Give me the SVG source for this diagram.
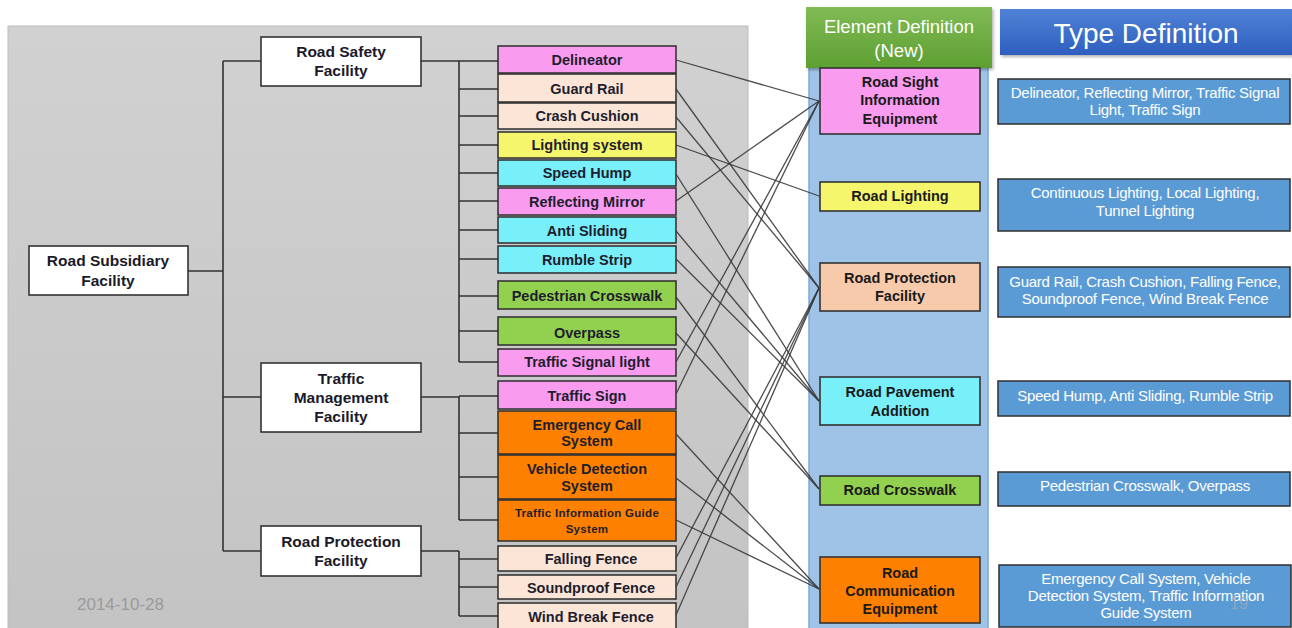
<svg xmlns="http://www.w3.org/2000/svg" width="1292" height="628" viewBox="0 0 1292 628">
  <defs>
    <linearGradient id="panelGrad" x1="0" y1="0" x2="0" y2="1">
      <stop offset="0" stop-color="#d1d1d1"/>
      <stop offset="1" stop-color="#c3c3c3"/>
    </linearGradient>
    <linearGradient id="greenHead" x1="0" y1="0" x2="0" y2="1">
      <stop offset="0" stop-color="#80bb55"/>
      <stop offset="1" stop-color="#5e9f32"/>
    </linearGradient>
    <linearGradient id="blueHead" x1="0" y1="0" x2="0" y2="1">
      <stop offset="0" stop-color="#4f82d6"/>
      <stop offset="1" stop-color="#2e5fbf"/>
    </linearGradient>
    <filter id="shadow" x="-5%" y="-10%" width="115%" height="130%">
      <feDropShadow dx="1.5" dy="2" stdDeviation="1.5" flood-color="#000" flood-opacity="0.3"/>
    </filter>
    <style>
      .tree { fill: none; stroke: #333; stroke-width: 1.6; }
      .cat { fill: #fff; stroke: #333; stroke-width: 1.6; }
      .cat-t { font-family: "Liberation Sans", Arial, sans-serif; font-weight: bold; font-size: 15.5px; fill: #1a1a2a; text-anchor: middle; }
      .item { stroke: #2d2d2d; stroke-width: 1.5; }
      .item-t { font-family: "Liberation Sans", Arial, sans-serif; font-weight: bold; font-size: 14.5px; fill: #1e1e2e; text-anchor: middle; }
      .small-t { font-size: 11.5px; letter-spacing: 0.3px; }
      .pink { fill: #f99cf0; }
      .peach { fill: #fbe5d7; }
      .yellow { fill: #f5f66c; }
      .cyan { fill: #79eff9; }
      .green { fill: #92d050; }
      .orange { fill: #fe8000; }
      .salmon { fill: #f8caac; }
      .elem { stroke: #333; stroke-width: 1.6; }
      .elem-t { font-family: "Liberation Sans", Arial, sans-serif; font-weight: bold; font-size: 14.5px; fill: #1a1a1a; text-anchor: middle; }
      .type { fill: #5b9bd5; stroke: #2f2f2f; stroke-width: 1.5; }
      .type-t { font-family: "Liberation Sans", Arial, sans-serif; font-size: 15px; letter-spacing: -0.25px; fill: #fff; text-anchor: middle; }
      .links line { stroke: #383838; stroke-width: 1.3; stroke-opacity: 0.9; }
    </style>
  </defs>

  <!-- page background -->
  <rect x="0" y="0" width="1292" height="628" fill="#fff"/>

  <!-- grey panel behind the facility tree -->
  <rect x="8" y="26" width="740" height="620" fill="url(#panelGrad)" stroke="#bdbdbd" stroke-width="1"/>

  <!-- light blue column for element definitions -->
  <rect x="809" y="64" width="179" height="580" fill="#9fc2e7" stroke="#7ca8dc" stroke-width="1.5"/>

  <!-- tree branches -->
  <g id="tree-lines" class="tree">
    <path d="M188 271 H223 M223 61 V551 M223 61 H261 M223 397 H261 M223 551 H261"/>
    <!-- road safety branch -->
    <path d="M421 61 H498 M459 61 V362 M459 89 H498 M459 116 H498 M459 145 H498 M459 173 H498 M459 201 H498 M459 230 H498 M459 259 H498 M459 296 H498 M459 331 H498 M459 362 H498"/>
    <!-- traffic management branch -->
    <path d="M421 397 H459 M459 396 V520 M459 396 H498 M459 433 H498 M459 477 H498 M459 520 H498"/>
    <!-- road protection branch -->
    <path d="M421 551 H459 M459 551 V616 M459 559 H498 M459 587 H498 M459 616 H498"/>
  </g>

  <!-- root and categories -->
  <g id="road-subsidiary-facility">
    <rect class="cat" x="29" y="246" width="159" height="49"/>
    <text class="cat-t" x="108" y="266">Road Subsidiary</text>
    <text class="cat-t" x="108" y="286">Facility</text>
  </g>
  <g id="road-safety-facility">
    <rect class="cat" x="261" y="37" width="160" height="49"/>
    <text class="cat-t" x="341" y="57">Road Safety</text>
    <text class="cat-t" x="341" y="76">Facility</text>
  </g>
  <g id="traffic-management-facility">
    <rect class="cat" x="261" y="363" width="160" height="69"/>
    <text class="cat-t" x="341" y="384">Traffic</text>
    <text class="cat-t" x="341" y="403">Management</text>
    <text class="cat-t" x="341" y="422">Facility</text>
  </g>
  <g id="road-protection-facility-cat">
    <rect class="cat" x="261" y="526" width="160" height="50"/>
    <text class="cat-t" x="341" y="547">Road Protection</text>
    <text class="cat-t" x="341" y="566">Facility</text>
  </g>

  <!-- facility items -->
  <g id="delineator"><rect class="item pink" x="498" y="46" width="178" height="27"/><text class="item-t" x="587" y="65">Delineator</text></g>
  <g id="guard-rail"><rect class="item peach" x="498" y="74" width="178" height="28"/><text class="item-t" x="587" y="94">Guard Rail</text></g>
  <g id="crash-cushion"><rect class="item peach" x="498" y="103" width="178" height="26"/><text class="item-t" x="587" y="121">Crash Cushion</text></g>
  <g id="lighting-system"><rect class="item yellow" x="498" y="132" width="178" height="26"/><text class="item-t" x="587" y="150">Lighting system</text></g>
  <g id="speed-hump"><rect class="item cyan" x="498" y="160" width="178" height="26"/><text class="item-t" x="587" y="178">Speed Hump</text></g>
  <g id="reflecting-mirror"><rect class="item pink" x="498" y="188" width="178" height="27"/><text class="item-t" x="587" y="207">Reflecting Mirror</text></g>
  <g id="anti-sliding"><rect class="item cyan" x="498" y="217" width="178" height="26"/><text class="item-t" x="587" y="236">Anti Sliding</text></g>
  <g id="rumble-strip"><rect class="item cyan" x="498" y="246" width="178" height="27"/><text class="item-t" x="587" y="265">Rumble Strip</text></g>
  <g id="pedestrian-crosswalk"><rect class="item green" x="498" y="281" width="178" height="28"/><text class="item-t" x="587" y="301">Pedestrian Crosswalk</text></g>
  <g id="overpass"><rect class="item green" x="498" y="317" width="178" height="28"/><text class="item-t" x="587" y="338">Overpass</text></g>
  <g id="traffic-signal-light"><rect class="item pink" x="498" y="349" width="178" height="27"/><text class="item-t" x="587" y="367">Traffic Signal light</text></g>
  <g id="traffic-sign"><rect class="item pink" x="498" y="381" width="178" height="28"/><text class="item-t" x="587" y="401">Traffic Sign</text></g>
  <g id="emergency-call-system"><rect class="item orange" x="498" y="411" width="178" height="43"/><text class="item-t" x="587" y="430">Emergency Call</text><text class="item-t" x="587" y="446">System</text></g>
  <g id="vehicle-detection-system"><rect class="item orange" x="498" y="455" width="178" height="44"/><text class="item-t" x="587" y="474">Vehicle Detection</text><text class="item-t" x="587" y="491">System</text></g>
  <g id="traffic-information-guide-system"><rect class="item orange" x="498" y="500" width="178" height="41"/><text class="item-t small-t" x="587" y="517">Traffic Information Guide</text><text class="item-t small-t" x="587" y="533">System</text></g>
  <g id="falling-fence"><rect class="item peach" x="498" y="546" width="178" height="25"/><text class="item-t" x="591" y="564">Falling Fence</text></g>
  <g id="soundproof-fence"><rect class="item peach" x="498" y="575" width="178" height="24"/><text class="item-t" x="591" y="593">Soundproof Fence</text></g>
  <g id="wind-break-fence"><rect class="item peach" x="498" y="603" width="178" height="32"/><text class="item-t" x="591" y="622">Wind Break Fence</text></g>

  <!-- mapping from facility items to element definitions -->
  <g id="connectors" class="links">
    <line x1="676" y1="60" x2="819" y2="101"/>
    <line x1="676" y1="201" x2="819" y2="101"/>
    <line x1="676" y1="362" x2="819" y2="101"/>
    <line x1="676" y1="394" x2="819" y2="101"/>
    <line x1="676" y1="145" x2="819" y2="196"/>
    <line x1="676" y1="89" x2="819" y2="288"/>
    <line x1="676" y1="117" x2="819" y2="288"/>
    <line x1="676" y1="558" x2="819" y2="288"/>
    <line x1="676" y1="587" x2="819" y2="288"/>
    <line x1="676" y1="615" x2="819" y2="288"/>
    <line x1="676" y1="174" x2="819" y2="401"/>
    <line x1="676" y1="231" x2="819" y2="401"/>
    <line x1="676" y1="259" x2="819" y2="401"/>
    <line x1="676" y1="297" x2="819" y2="489"/>
    <line x1="676" y1="333" x2="819" y2="489"/>
    <line x1="676" y1="434" x2="819" y2="589"/>
    <line x1="676" y1="478" x2="819" y2="589"/>
    <line x1="676" y1="520" x2="819" y2="589"/>
  </g>

  <!-- column headers -->
  <g id="element-definition-header">
    <rect x="806" y="7" width="186" height="61" fill="url(#greenHead)" filter="url(#shadow)"/>
    <text x="899" y="33" font-family="Liberation Sans, Arial, sans-serif" font-size="18.5" fill="#fff" text-anchor="middle">Element Definition</text>
    <text x="899" y="57" font-family="Liberation Sans, Arial, sans-serif" font-size="18.5" fill="#fff" text-anchor="middle">(New)</text>
  </g>
  <g id="type-definition-header">
    <rect x="1000" y="9" width="292" height="46" fill="url(#blueHead)" filter="url(#shadow)"/>
    <text x="1146" y="43" font-family="Liberation Sans, Arial, sans-serif" font-size="28" fill="#fff" text-anchor="middle">Type Definition</text>
  </g>

  <!-- element definitions -->
  <g id="road-sight-information-equipment">
    <rect class="elem pink" x="820" y="68" width="160" height="66"/>
    <text class="elem-t" x="900" y="87">Road Sight</text>
    <text class="elem-t" x="900" y="105">Information</text>
    <text class="elem-t" x="900" y="124">Equipment</text>
  </g>
  <g id="road-lighting">
    <rect class="elem yellow" x="820" y="182" width="160" height="29"/>
    <text class="elem-t" x="900" y="201">Road Lighting</text>
  </g>
  <g id="road-protection-facility">
    <rect class="elem salmon" x="820" y="263" width="160" height="48"/>
    <text class="elem-t" x="900" y="283">Road Protection</text>
    <text class="elem-t" x="900" y="301">Facility</text>
  </g>
  <g id="road-pavement-addition">
    <rect class="elem cyan" x="820" y="377" width="160" height="48"/>
    <text class="elem-t" x="900" y="397">Road Pavement</text>
    <text class="elem-t" x="900" y="416">Addition</text>
  </g>
  <g id="road-crosswalk">
    <rect class="elem green" x="820" y="476" width="160" height="29"/>
    <text class="elem-t" x="900" y="495">Road Crosswalk</text>
  </g>
  <g id="road-communication-equipment">
    <rect class="elem orange" x="820" y="557" width="160" height="66"/>
    <text class="elem-t" x="900" y="578">Road</text>
    <text class="elem-t" x="900" y="596">Communication</text>
    <text class="elem-t" x="900" y="614">Equipment</text>
  </g>

  <!-- type definitions -->
  <g id="type-road-sight">
    <rect class="type" x="998" y="79" width="292" height="45"/>
    <text class="type-t" x="1145" y="98">Delineator, Reflecting Mirror, Traffic Signal</text>
    <text class="type-t" x="1145" y="115">Light, Traffic Sign</text>
  </g>
  <g id="type-road-lighting">
    <rect class="type" x="998" y="179" width="292" height="52"/>
    <text class="type-t" x="1145" y="198">Continuous Lighting, Local Lighting,</text>
    <text class="type-t" x="1145" y="216">Tunnel Lighting</text>
  </g>
  <g id="type-road-protection">
    <rect class="type" x="998" y="267" width="292" height="50"/>
    <text class="type-t" x="1145" y="287">Guard Rail, Crash Cushion, Falling Fence,</text>
    <text class="type-t" x="1145" y="304">Soundproof Fence, Wind Break Fence</text>
  </g>
  <g id="type-road-pavement">
    <rect class="type" x="998" y="381" width="292" height="35"/>
    <text class="type-t" x="1145" y="401">Speed Hump, Anti Sliding, Rumble Strip</text>
  </g>
  <g id="type-road-crosswalk">
    <rect class="type" x="998" y="472" width="292" height="34"/>
    <text class="type-t" x="1145" y="491">Pedestrian Crosswalk, Overpass</text>
  </g>
  <g id="type-road-communication">
    <rect class="type" x="999" y="565" width="292" height="62"/>
    <text class="type-t" x="1146" y="584">Emergency Call System, Vehicle</text>
    <text class="type-t" x="1146" y="601">Detection System, Traffic Information</text>
    <text class="type-t" x="1146" y="618">Guide System</text>
  </g>

  <!-- slide footer -->
  <text x="77" y="610" font-family="Liberation Sans, Arial, sans-serif" font-size="17" fill="#9a9a9a">2014-10-28</text>
  <text x="1230" y="609" font-family="Liberation Sans, Arial, sans-serif" font-size="16" fill="#9aa9b8" fill-opacity="0.8">19</text>
</svg>
